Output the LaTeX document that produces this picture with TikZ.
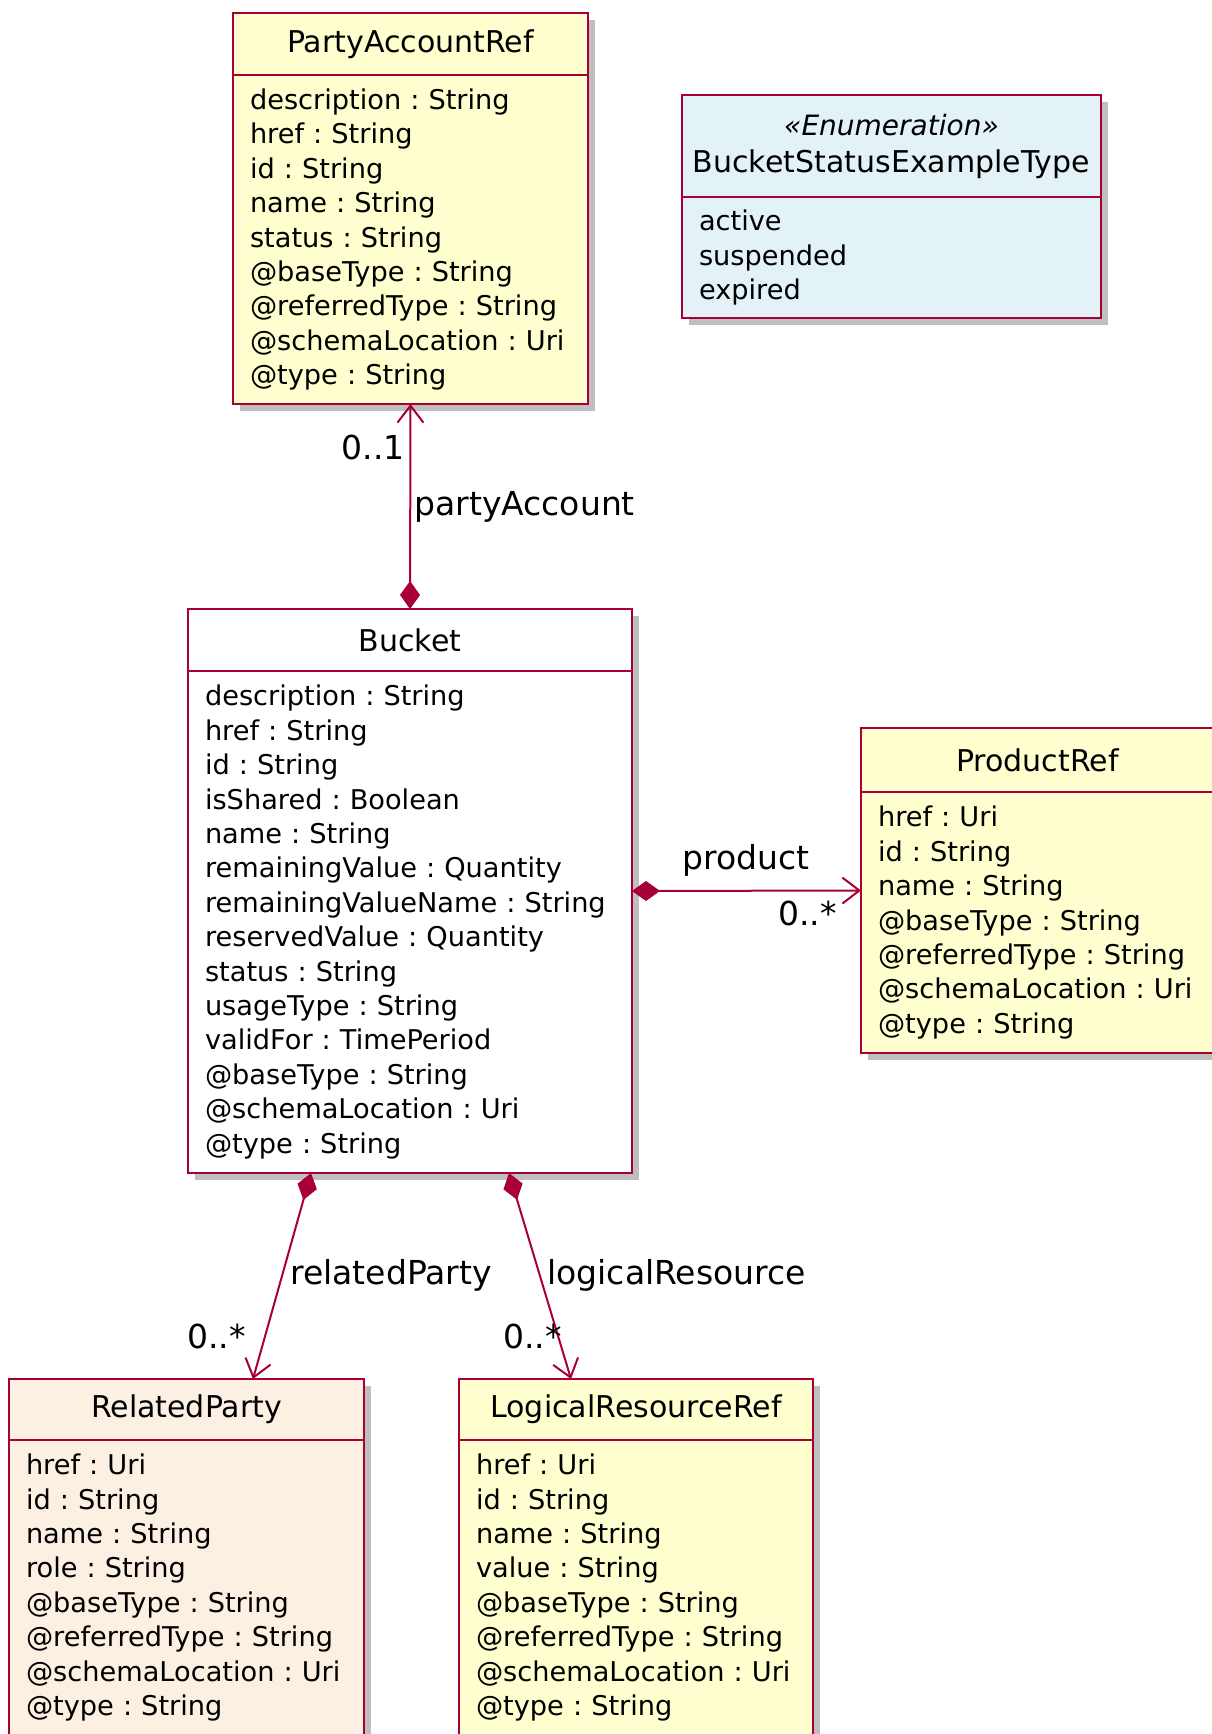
\documentclass[tikz,border=0pt]{standalone}
\usepackage{fontspec}
\setmainfont{DejaVu Sans}
\usepackage{tikz}
\usetikzlibrary{arrows.meta, positioning, shadows, calc}
\frenchspacing

\definecolor{umlborder}{HTML}{A80036}
\definecolor{classbg}{HTML}{FEFECE}
\definecolor{enumbg}{HTML}{E3F2F6}
\definecolor{partybg}{HTML}{FBF0E2}

\newcommand{\headfont}{\fontsize{15}{18.5}\selectfont}
\newcommand{\attrfont}{\fontsize{13.6}{17.2}\selectfont}
\newcommand{\rolefont}{\fontsize{16.5}{19}\selectfont}

\tikzstyle{umlshadow} = [drop shadow={shadow xshift=3.5pt, shadow yshift=-3.5pt, fill=black, opacity=0.25}]
\tikzstyle{classhead} = [draw=umlborder, line width=1.2pt, outer sep=0pt, anchor=north, inner sep=0pt, minimum height=31pt, font=\headfont, umlshadow]
\tikzstyle{classbody} = [draw=umlborder, line width=1.2pt, outer sep=0pt, inner xsep=8.5pt, inner ysep=0pt, align=left, font=\attrfont, umlshadow]
\tikzstyle{assoc} = [draw=umlborder, line width=1pt, {Diamond[length=14pt,width=10pt]}-{Straight Barb[length=8.5pt,width=13pt]}]
\tikzstyle{rolelabel} = [font=\rolefont, inner sep=0pt]

\begin{document}
\begin{tikzpicture}[x=0.5pt, y=-0.5pt]

   % page frame
   \useasboundingbox (0,0) rectangle (1211,1734);

   % PartyAccountRef
   \node[classhead, fill=classbg, minimum width=177.5pt] (partyacc) at (410.5,13) {PartyAccountRef};
   \node[classbody, fill=classbg, text width=160.5pt, minimum height=164.5pt, below=0pt of partyacc] (partyacc-body)
      {description : String\\ href : String\\ id : String\\ name : String\\ status : String\\
       @baseType : String\\ @referredType : String\\ @schemaLocation : Uri\\ @type : String};

   % enumeration
   \node[classhead, fill=enumbg, minimum width=209.5pt, minimum height=51pt, align=center] (enum) at (891.5,95)
      {{\itshape\fontsize{14}{18.5}\selectfont «Enumeration»}\\ BucketStatusExampleType};
   \node[classbody, fill=enumbg, text width=192.5pt, minimum height=60.5pt, below=0pt of enum] (enum-body)
      {active\\ suspended\\ expired};

   % Bucket
   \node[classhead, fill=white, minimum width=222pt] (bucket) at (410,609) {Bucket};
   \node[classbody, fill=white, text width=205pt, minimum height=251pt, below=0pt of bucket] (bucket-body)
      {description : String\\ href : String\\ id : String\\ isShared : Boolean\\ name : String\\
       remainingValue : Quantity\\ remainingValueName : String\\ reservedValue : Quantity\\
       status : String\\ usageType : String\\ validFor : TimePeriod\\ @baseType : String\\
       @schemaLocation : Uri\\ @type : String};

   % ProductRef
   \node[classhead, fill=classbg, minimum width=176.5pt, minimum height=32pt] (product) at (1037.5,728) {ProductRef};
   \node[classbody, fill=classbg, text width=159.5pt, minimum height=130.5pt, below=0pt of product] (product-body)
      {href : Uri\\ id : String\\ name : String\\ @baseType : String\\ @referredType : String\\
       @schemaLocation : Uri\\ @type : String};

   % RelatedParty
   \node[classhead, fill=partybg, minimum width=177.5pt, minimum height=30.5pt] (relparty) at (186.5,1379) {RelatedParty};
   \node[classbody, fill=partybg, text width=160.5pt, minimum height=147.5pt, below=0pt of relparty] (relparty-body)
      {href : Uri\\ id : String\\ name : String\\ role : String\\ @baseType : String\\
       @referredType : String\\ @schemaLocation : Uri\\ @type : String};

   % LogicalResourceRef
   \node[classhead, fill=classbg, minimum width=177pt, minimum height=30.5pt] (logres) at (636,1379) {LogicalResourceRef};
   \node[classbody, fill=classbg, text width=160pt, minimum height=147.5pt, below=0pt of logres] (logres-body)
      {href : Uri\\ id : String\\ name : String\\ value : String\\ @baseType : String\\
       @referredType : String\\ @schemaLocation : Uri\\ @type : String};

   % associations
   \draw[assoc] (bucket.north) -- (partyacc-body.south);
   \draw[assoc] ($(bucket.north east)!0.5!(bucket-body.south east)$) -- ($(product.north west)!0.5!(product-body.south west)$);
   \draw[assoc] ([xshift=-49.5pt]bucket-body.south) -- ([xshift=33.25pt]relparty.north);
   \draw[assoc] ([xshift=49.5pt]bucket-body.south) -- ([xshift=-32.5pt]logres.north);

   % role names and multiplicities
   \node[rolelabel, anchor=east] (pa-mult) at (405,447) {0..1};
   \node[rolelabel, anchor=west] (pa-role) at (414,507) {partyAccount};
   \node[rolelabel] (pr-role) at (746,860) {product};
   \node[rolelabel, anchor=east] (pr-mult) at (837,913) {0..*};
   \node[rolelabel, anchor=west] (rp-role) at (290,1275) {relatedParty};
   \node[rolelabel, anchor=east] (rp-mult) at (246,1336) {0..*};
   \node[rolelabel, anchor=west] (lr-role) at (547,1275) {logicalResource};
   \node[rolelabel, anchor=east] (lr-mult) at (562,1336) {0..*};

\end{tikzpicture}
\end{document}
